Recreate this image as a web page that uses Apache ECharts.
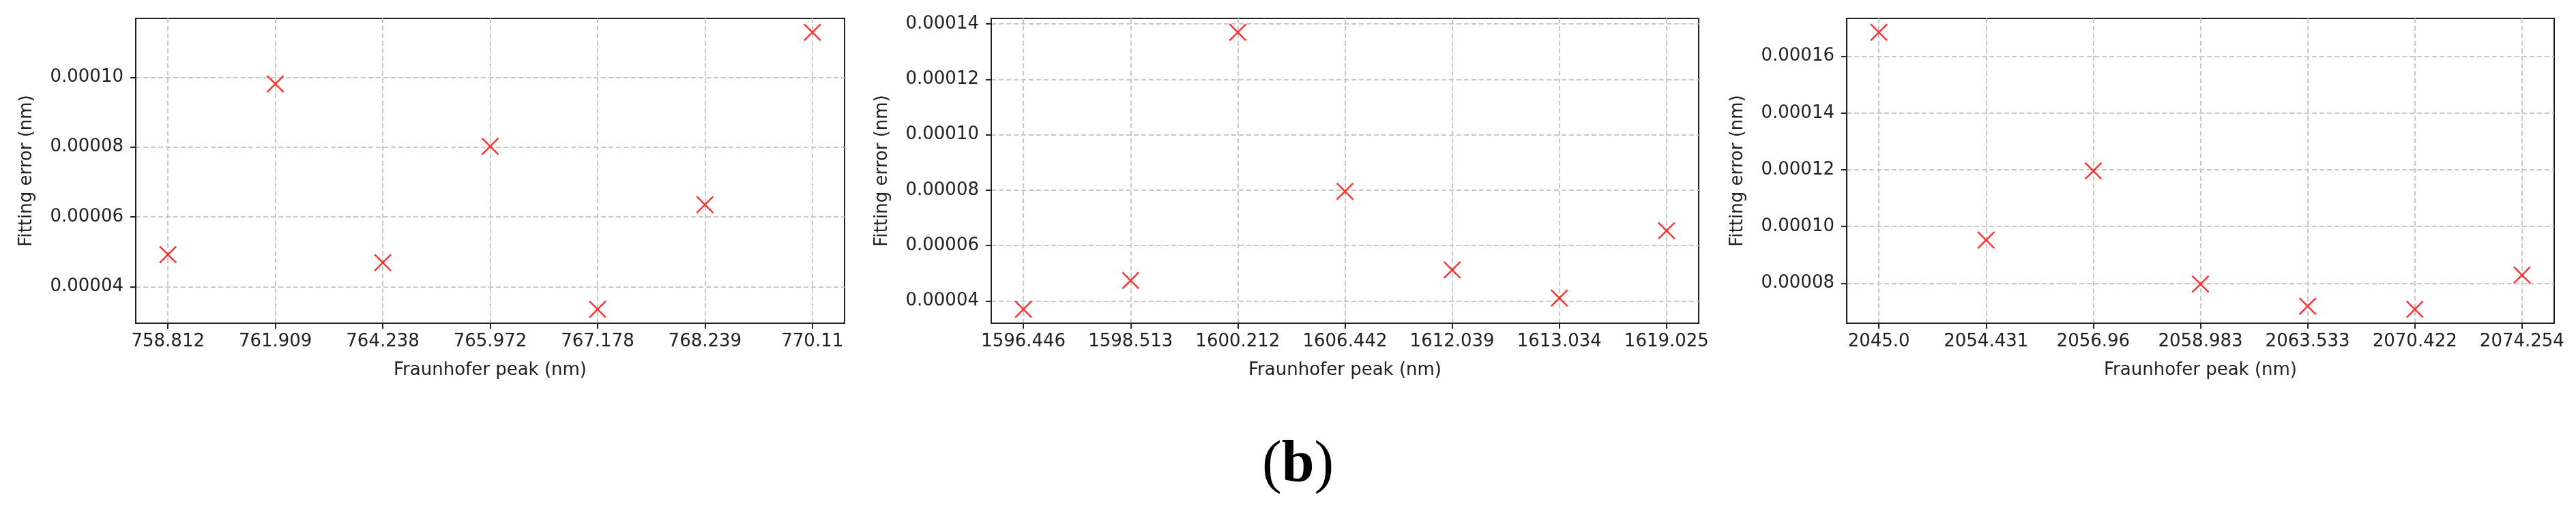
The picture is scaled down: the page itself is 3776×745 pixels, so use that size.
<!DOCTYPE html>
<html>
<head>
<meta charset="utf-8">
<script src="https://cdn.jsdelivr.net/npm/echarts@6/dist/echarts.min.js"></script>
<style>
html,body{margin:0;padding:0;background:#fff;}
#chart{width:3776px;height:745px;}
</style>
</head>
<body>
<div id="chart"></div>
<script>
// ---- data ----
const cats1 = ['758.812','761.909','764.238','765.972','767.178','768.239','770.11'];
const err1  = [0.0000492, 0.0000981, 0.0000469, 0.0000802, 0.0000335, 0.0000635, 0.0001129];
const yTicks1 = [0.00004, 0.00006, 0.00008, 0.00010];

const cats2 = ['1596.446','1598.513','1600.212','1606.442','1612.039','1613.034','1619.025'];
const err2  = [0.0000370, 0.0000474, 0.0001370, 0.0000796, 0.0000512, 0.0000411, 0.0000654];
const yTicks2 = [0.00004, 0.00006, 0.00008, 0.00010, 0.00012, 0.00014];

const cats3 = ['2045.0','2054.431','2056.96','2058.983','2063.533','2070.422','2074.254'];
const err3  = [0.0001685, 0.0000952, 0.0001196, 0.0000797, 0.0000719, 0.0000708, 0.0000829];
const yTicks3 = [0.00008, 0.00010, 0.00012, 0.00014, 0.00016];

const xName = 'Fraunhofer peak (nm)';
const yName = 'Fitting error (nm)';
const caption = '(b)';

// ---- layout ----
const panels = [
  {cats: cats1, vals: err1, yTicks: yTicks1, left: 199},
  {cats: cats2, vals: err2, yTicks: yTicks2, left: 1453},
  {cats: cats3, vals: err3, yTicks: yTicks3, left: 2707}
];
const FONT = 'DejaVu Sans';
const AX = '#222';
const GRIDC = '#c9c9c9';

const grids = [], xAxes = [], yAxes = [], series = [];
panels.forEach((p, i) => {
  const n = p.cats.length;
  const lo = Math.min(...p.vals), hi = Math.max(...p.vals);
  const m = 0.05 * (hi - lo);
  grids.push({left: p.left, top: 27, width: i === 0 ? 1039 : 1037, height: 447,
    show: true, borderColor: AX, borderWidth: 2, backgroundColor: 'transparent'});
  const idx = p.cats.map((c, k) => k);
  xAxes.push({
    type: 'value', gridIndex: i, min: -0.05 * (n - 1), max: (n - 1) * 1.05,
    name: xName, nameLocation: 'middle', nameGap: 56,
    nameTextStyle: {fontFamily: FONT, fontSize: 26, color: '#222'},
    axisLine: {show: true, onZero: false, lineStyle: {color: AX, width: 2}},
    axisTick: {show: true, length: 8, lineStyle: {color: AX, width: 2}, customValues: idx},
    axisLabel: {customValues: idx, margin: 14, fontFamily: FONT, fontSize: 26, color: '#222',
      formatter: v => p.cats[Math.round(v)]},
    splitLine: {show: true, lineStyle: {color: GRIDC, width: 2, type: [7, 4]}}
  });
  yAxes.push({
    type: 'value', gridIndex: i, min: lo - m, max: hi + m,
    name: yName, nameLocation: 'middle', nameGap: 147,
    nameTextStyle: {fontFamily: FONT, fontSize: 26, color: '#222'},
    axisLine: {show: true, onZero: false, lineStyle: {color: AX, width: 2}},
    axisTick: {show: true, length: 8, lineStyle: {color: AX, width: 2}, customValues: p.yTicks},
    axisLabel: {customValues: p.yTicks, margin: 18, fontFamily: FONT, fontSize: 26, color: '#222',
      formatter: v => v.toFixed(5)},
    splitLine: {show: true, lineStyle: {color: GRIDC, width: 2, type: [7, 4]}}
  });
  series.push({
    type: 'scatter', xAxisIndex: i, yAxisIndex: i,
    data: p.vals.map((v, k) => [k, v]),
    symbol: 'path://M0,0L10,10M10,0L0,10', symbolSize: 24,
    itemStyle: {color: 'none', borderColor: '#ff0000', borderWidth: 2.5},
    silent: true, z: 5
  });
});

const chart = echarts.init(document.getElementById('chart'), null, {renderer: 'canvas'});
chart.setOption({
  animation: false,
  backgroundColor: '#ffffff',
  grid: grids, xAxis: xAxes, yAxis: yAxes, series: series,
  graphic: [{
    type: 'text', left: 1850, top: 640,
    style: {
      text: '{p|(}{b|b}{p|)}',
      rich: {
        p: {fontFamily: 'Liberation Serif', fontSize: 86, fill: '#000'},
        b: {fontFamily: 'Liberation Serif', fontSize: 86, fontWeight: 'bold', fill: '#000'}
      }
    }
  }]
});
</script>
</body>
</html>
